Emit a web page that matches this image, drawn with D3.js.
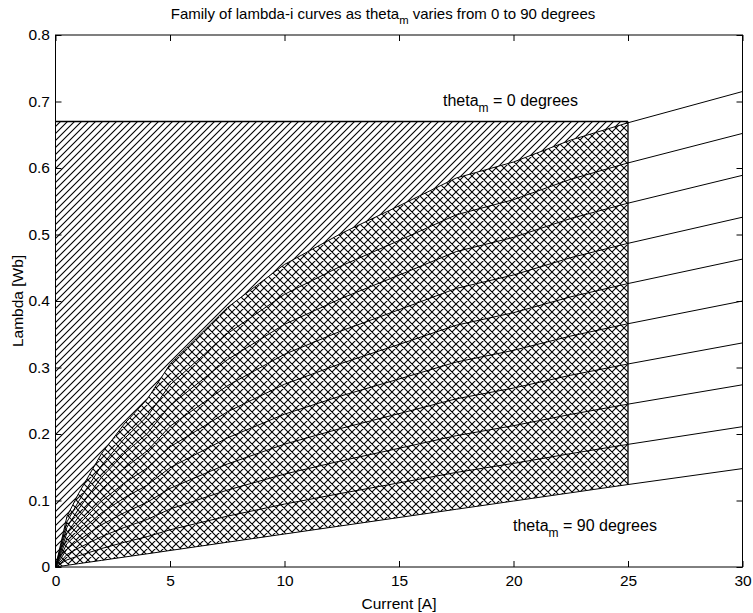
<!DOCTYPE html>
<html><head><meta charset="utf-8">
<script src="https://cdn.jsdelivr.net/npm/d3@7"></script>
<style>
body{margin:0;background:#fff;}
text{font-family:"Liberation Sans",Arial,Helvetica,sans-serif;fill:#000;}
</style></head>
<body>
<svg id="chart" width="753" height="613"></svg>
<script>
// ---- data ----
const current = [0, 0.5, 1, 2, 3, 4, 5, 7.5, 10, 12.5, 15, 17.5, 20, 22.5, 25, 30];
const thetaLabels = [0, 10, 20, 30, 40, 50, 60, 70, 80, 90];
const lambda0  = [0, 0.076, 0.110, 0.170, 0.215, 0.252, 0.305, 0.390, 0.455, 0.502, 0.543, 0.585, 0.609, 0.642, 0.668, 0.715];
const lambda10 = [0, 0.0678, 0.0983, 0.1522, 0.1928, 0.2262, 0.2739, 0.3508, 0.4100, 0.4531, 0.4909, 0.5296, 0.5524, 0.5831, 0.6076, 0.652];
const lambda20 = [0, 0.0597, 0.0867, 0.1344, 0.1705, 0.2004, 0.2427, 0.3116, 0.3649, 0.4042, 0.4389, 0.4743, 0.4957, 0.5241, 0.5471, 0.589];
const lambda30 = [0, 0.0515, 0.0750, 0.1166, 0.1483, 0.1746, 0.2116, 0.2724, 0.3199, 0.3553, 0.3868, 0.4189, 0.4391, 0.4652, 0.4867, 0.526];
const lambda40 = [0, 0.0433, 0.0633, 0.0988, 0.1261, 0.1488, 0.1805, 0.2332, 0.2748, 0.3064, 0.3347, 0.3636, 0.3824, 0.4063, 0.4262, 0.463];
const lambda50 = [0, 0.0352, 0.0517, 0.0811, 0.1038, 0.1230, 0.1493, 0.1940, 0.2298, 0.2576, 0.2827, 0.3082, 0.3258, 0.3473, 0.3658, 0.400];
const lambda60 = [0, 0.0270, 0.0400, 0.0633, 0.0816, 0.0972, 0.1182, 0.1548, 0.1847, 0.2087, 0.2306, 0.2529, 0.2691, 0.2884, 0.3053, 0.337];
const lambda70 = [0, 0.0188, 0.0283, 0.0455, 0.0594, 0.0714, 0.0871, 0.1156, 0.1397, 0.1598, 0.1785, 0.1975, 0.2125, 0.2295, 0.2449, 0.274];
const lambda80 = [0, 0.0107, 0.0167, 0.0277, 0.0371, 0.0456, 0.0559, 0.0764, 0.0946, 0.1109, 0.1265, 0.1422, 0.1558, 0.1705, 0.1844, 0.211];
const lambda90 = [0, 0.0025, 0.0050, 0.0099, 0.0149, 0.0198, 0.0248, 0.0372, 0.0496, 0.0620, 0.0744, 0.0868, 0.0992, 0.1116, 0.1240, 0.148];
const series = [lambda0, lambda10, lambda20, lambda30, lambda40, lambda50, lambda60, lambda70, lambda80, lambda90];
const lambdaMax = 0.67;      // top of hatched region
const currentMax = 25;       // right edge of hatched regions
const xTicks = [0, 5, 10, 15, 20, 25, 30];
const yTicks = [0, 0.1, 0.2, 0.3, 0.4, 0.5, 0.6, 0.7, 0.8];

// ---- layout ----
const svg = d3.select("#chart");
const L = 55.5, R = 742.5, T = 35, B = 567;
const x = d3.scaleLinear().domain([0, 30]).range([L, R]);
const y = d3.scaleLinear().domain([0, 0.8]).range([B, T]);

// patterns
const defs = svg.append("defs");
const p1 = defs.append("pattern").attr("id", "diag").attr("patternUnits", "userSpaceOnUse")
  .attr("width", 7).attr("height", 7);
p1.append("path").attr("d", "M0,7 L7,0 M-1,1 L1,-1 M6,8 L8,6")
  .attr("stroke", "#000").attr("stroke-width", 1.1);
const p2 = defs.append("pattern").attr("id", "cross").attr("patternUnits", "userSpaceOnUse")
  .attr("width", 8).attr("height", 8);
p2.append("path").attr("d", "M0,8 L8,0 M-1,1 L1,-1 M7,9 L9,7 M0,0 L8,8 M-1,7 L1,9 M7,-1 L9,1")
  .attr("stroke", "#000").attr("stroke-width", 1.1);

// regions
const idx = current.map((c, i) => i).filter(i => current[i] <= currentMax);
const topPts = idx.map(i => [current[i], lambda0[i]]);
const botPts = idx.map(i => [current[i], lambda90[i]]);
const poly = d3.line().x(d => x(d[0])).y(d => y(d[1]));

// diagonal hatch region above theta=0 curve
const diagPts = [[0, 0], [0, lambdaMax], [currentMax, lambdaMax]].concat(topPts.slice().reverse());
svg.append("path").attr("d", poly(diagPts) + "Z").attr("fill", "url(#diag)").attr("stroke", "none");
// cross hatch region between theta=0 and theta=90 curves
const crossPts = topPts.concat(botPts.slice().reverse());
svg.append("path").attr("d", poly(crossPts) + "Z").attr("fill", "url(#cross)").attr("stroke", "none");

// curves
const line = d3.line().x((d, i) => x(current[i])).y(d => y(d));
svg.append("g").selectAll("path").data(series).join("path")
  .attr("d", d => line(d)).attr("fill", "none").attr("stroke", "#000").attr("stroke-width", 1);

// boundary lines
svg.append("line").attr("x1", x(0)).attr("x2", x(currentMax)).attr("y1", y(lambdaMax)).attr("y2", y(lambdaMax))
  .attr("stroke", "#000").attr("stroke-width", 1.6);
svg.append("line").attr("x1", x(currentMax)).attr("x2", x(currentMax))
  .attr("y1", y(lambda90[current.indexOf(currentMax)])).attr("y2", y(lambdaMax))
  .attr("stroke", "#000").attr("stroke-width", 1.3);

// axes (box with inward ticks)
const tl = 6;
const FS = 15.5;
const ax = svg.append("g");
ax.append("rect").attr("x", L).attr("y", T).attr("width", R - L).attr("height", B - T)
  .attr("fill", "none").attr("stroke", "#000").attr("stroke-width", 1);
const axBottom = d3.axisBottom(x).tickValues(xTicks).tickSize(-tl).tickPadding(8).tickFormat(d3.format("d"));
const axTop = d3.axisTop(x).tickValues(xTicks).tickSize(-tl).tickFormat("");
const axLeft = d3.axisLeft(y).tickValues(yTicks).tickSize(-tl).tickPadding(5.5).tickFormat(d => d === 0 ? "0" : d3.format(".1f")(d));
const axRight = d3.axisRight(y).tickValues(yTicks).tickSize(-tl).tickFormat("");
function style(g) {
  g.select(".domain").remove();
  g.selectAll(".tick line").attr("stroke", "#000");
  g.selectAll(".tick text").attr("font-size", FS).attr("font-family", "Liberation Sans, Arial, sans-serif").attr("fill", "#000");
}
ax.append("g").attr("transform", `translate(0,${B})`).call(axBottom).call(style);
ax.append("g").attr("transform", `translate(0,${T})`).call(axTop).call(style);
ax.append("g").attr("transform", `translate(${L},0)`).call(axLeft).call(style);
ax.append("g").attr("transform", `translate(${R},0)`).call(axRight).call(style);

// texts
function subText(xp, yp, before, sub, after, size, anchor) {
  const t = svg.append("text").attr("x", xp).attr("y", yp).attr("font-size", size).attr("text-anchor", anchor || "start");
  t.append("tspan").text(before);
  t.append("tspan").attr("dy", size * 0.35).attr("font-size", size * 0.75).text(sub);
  t.append("tspan").attr("dy", -size * 0.35).text(after);
  return t;
}
subText(383, 19, "Family of lambda-i curves as theta", "m", " varies from 0 to 90 degrees", 15, "middle");
subText(443, 106, "theta", "m", " = 0 degrees", 16);
subText(513, 531, "theta", "m", " = 90 degrees", 16);
svg.append("text").attr("x", 399).attr("y", 609).attr("text-anchor", "middle").attr("font-size", FS).text("Current [A]");
svg.append("text").attr("transform", "translate(23,301) rotate(-90)").attr("text-anchor", "middle").attr("font-size", FS).text("Lambda [Wb]");
</script>
</body></html>
